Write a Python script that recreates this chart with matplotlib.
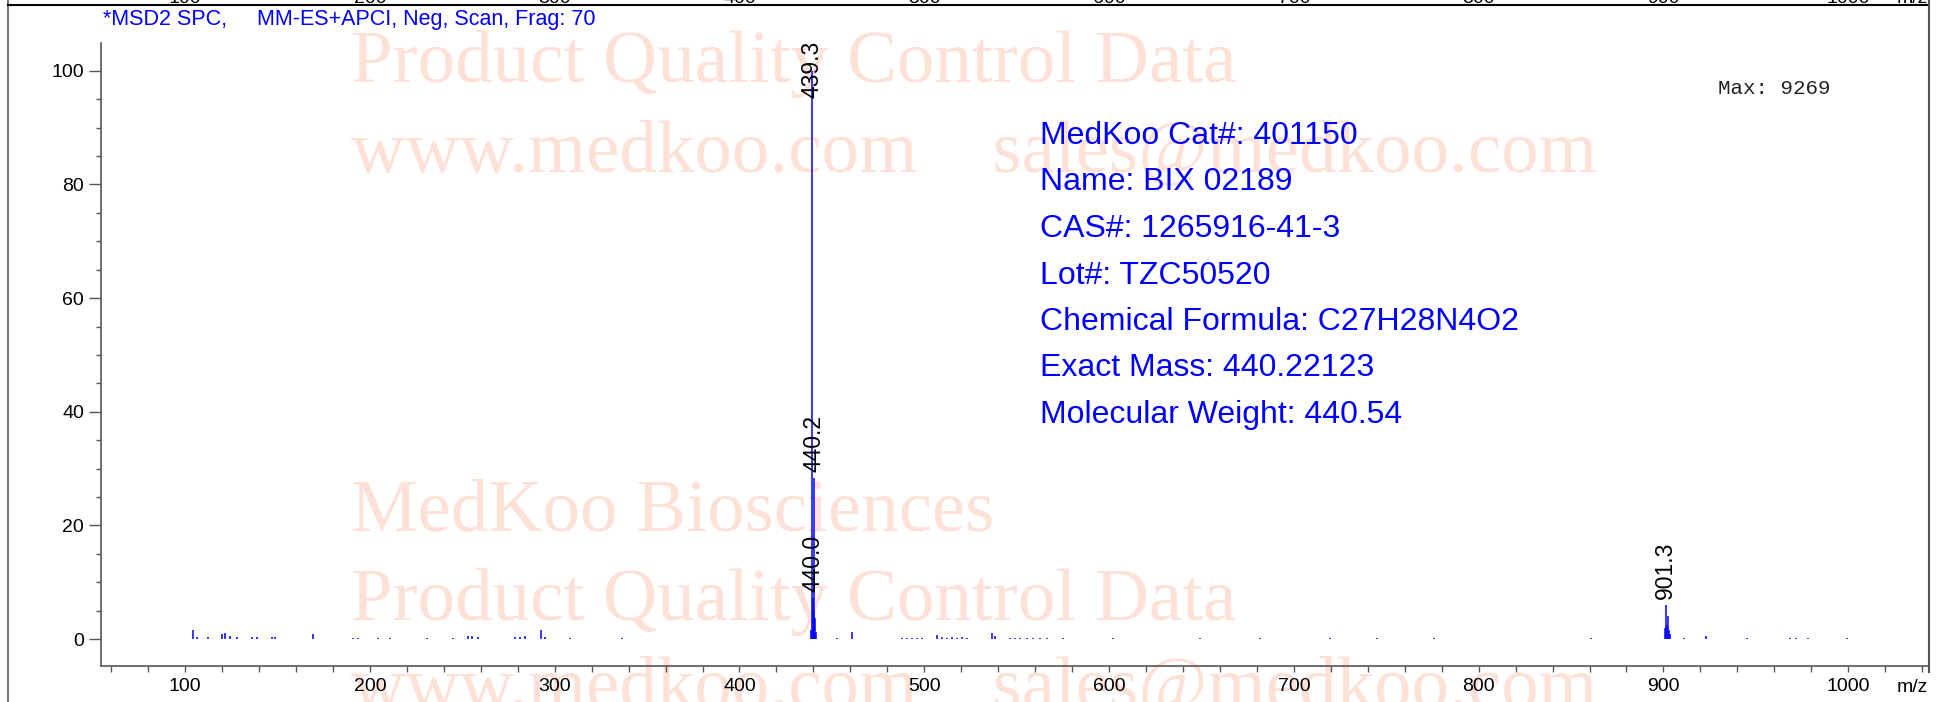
import matplotlib
matplotlib.use('Agg')
import matplotlib.pyplot as plt
import matplotlib.transforms as mtransforms
from matplotlib.ticker import MultipleLocator

plt.rcParams['font.family'] = 'Liberation Sans'

# spectrum: m/z and relative abundance (%)
mz = [104.2, 106.7, 112.6, 119.8, 121.6, 124.4, 128.0, 136.0, 138.8, 146.9,
      148.7, 169.1, 191.1, 193.8, 204.6, 210.9, 230.8, 245.2, 253.3, 255.1,
      258.7, 278.6, 281.3, 284.0, 292.5, 294.8, 308.3, 336.3,
      438.9, 439.3, 440.0, 440.2, 440.5, 441.0, 441.4, 452.8, 460.8,
      487.8, 490.5, 493.2, 495.9, 498.6, 506.7, 509.5, 512.2, 514.9, 517.6,
      520.3, 523.0, 536.5, 538.3, 546.4, 549.1, 551.8, 555.4, 559.0, 562.7,
      566.3, 575.3, 602.3, 649.2, 681.7, 719.6, 744.9, 775.9, 860.6,
      900.9, 901.3, 901.7, 902.3, 902.8, 903.5, 911.2, 923.0, 945.4, 968.3,
      971.6, 978.1, 999.4]
abund = [1.5, 0.3, 0.3, 0.8, 1.0, 0.5, 0.3, 0.4, 0.3, 0.3,
         0.3, 0.8, 0.2, 0.2, 0.2, 0.2, 0.2, 0.2, 0.5, 0.6,
         0.3, 0.4, 0.3, 0.6, 1.5, 0.4, 0.2, 0.2,
         1.5, 100.0, 7.2, 28.3, 5.0, 3.7, 1.2, 0.2, 1.2,
         0.2, 0.2, 0.2, 0.2, 0.2, 0.7, 0.3, 0.2, 0.3, 0.2,
         0.3, 0.2, 1.0, 0.5, 0.2, 0.2, 0.2, 0.2, 0.2, 0.2,
         0.2, 0.2, 0.2, 0.2, 0.2, 0.2, 0.2, 0.2, 0.2,
         2.0, 6.0, 2.5, 4.0, 1.5, 0.8, 0.2, 0.6, 0.2, 0.2,
         0.2, 0.2, 0.2]

peak_labels = ['439.3', '440.2', '440.0', '901.3']

header = '*MSD2 SPC,     MM-ES+APCI, Neg, Scan, Frag: 70'
max_text = 'Max: 9269'
info = ['MedKoo Cat#: 401150', 'Name: BIX 02189', 'CAS#: 1265916-41-3',
        'Lot#: TZC50520', 'Chemical Formula: C27H28N4O2',
        'Exact Mass: 440.22123', 'Molecular Weight: 440.54']
watermark = ['Product Quality Control Data', 'www.medkoo.com    sales@medkoo.com',
             'MedKoo Biosciences', 'Product Quality Control Data',
             'www.medkoo.com    sales@medkoo.com']
x_ticks = [100, 200, 300, 400, 500, 600, 700, 800, 900, 1000]
y_ticks = [0, 20, 40, 60, 80, 100]

W, H = 1945, 702
fig = plt.figure(figsize=(W / 100, H / 100), dpi=100)
ax = fig.add_axes([101 / W, 1 - 666 / H, (1929 - 101) / W, (666 - 43) / H])

blue = '#0000ff'
grey = '#555555'
wm_color = '#fde0d6'

ax.vlines(mz, 0, abund, color=blue, lw=1.1, zorder=2)
ax.set_xlim(54.5, 1043.7)
ax.set_ylim(-4.75, 104.9)

for lab in peak_labels:
    m = float(lab)
    h = abund[mz.index(m)]
    ax.text(m, min(h + 1.1, 95.2), lab, rotation=90, ha='center', va='bottom',
            fontsize=16.5, color='black', zorder=4, clip_on=False)

ax.set_xticks(x_ticks)
ax.set_yticks(y_ticks)
ax.xaxis.set_minor_locator(MultipleLocator(20))
ax.yaxis.set_minor_locator(MultipleLocator(5))
ax.tick_params(axis='x', which='both', length=4.3, width=1, color=grey,
               labelsize=14, pad=4)
ax.tick_params(axis='y', which='major', length=8.6, width=1, color=grey,
               labelsize=14, pad=3.5)
ax.tick_params(axis='y', which='minor', length=3.6, width=1, color=grey)
for s in ['top', 'right']:
    ax.spines[s].set_visible(False)
for s in ['left', 'bottom']:
    ax.spines[s].set_color(grey)
    ax.spines[s].set_linewidth(1.2)
ax.patch.set_alpha(0)

# watermark behind the spectrum
wm_y = [64, 153, 513, 602, 689]
for txt, yy in zip(watermark, wm_y):
    ax.text(351 / W, 1 - yy / H, txt, transform=fig.transFigure, ha='left',
            va='center', fontsize=54, family='Liberation Serif',
            color=wm_color, zorder=0.5, clip_on=False)

# info block
for i, line in enumerate(info):
    fig.text(1040 / W, 1 - (136 + i * 46.5) / H, line, ha='left', va='center',
             fontsize=23, color=blue, zorder=5)

fig.text(103 / W, 1 - 20 / H, header, ha='left', va='center', fontsize=15.5,
         color=blue)
fig.text(1718 / W, 1 - 88 / H, max_text, ha='left', va='center', fontsize=15,
         family='Liberation Mono', color='#222222')
fig.text(1928 / W, 1 - 688 / H, 'm/z', ha='right', va='center', fontsize=14)

# frame lines of the report page
fig.add_artist(plt.Line2D([8 / W, 8 / W], [0, 1], transform=fig.transFigure,
                          color='#777777', lw=1.5))
fig.add_artist(plt.Line2D([8 / W, 1929 / W], [1 - 5 / H, 1 - 5 / H],
                          transform=fig.transFigure, color='black', lw=1.5))
fig.add_artist(plt.Line2D([1929 / W, 1929 / W], [1 - 672 / H, 1],
                          transform=fig.transFigure, color='#555555', lw=1.5))

# cut-off tick labels of the panel above
trans = mtransforms.blended_transform_factory(ax.transData, fig.transFigure)
for t in x_ticks:
    fig.text(t, 1 - 3 / H, str(t), transform=trans, ha='center', va='baseline',
             fontsize=14)
fig.text(1928 / W, 1 - 3 / H, 'm/z', ha='right', va='baseline', fontsize=14)

fig.savefig('out.png', dpi=100)
